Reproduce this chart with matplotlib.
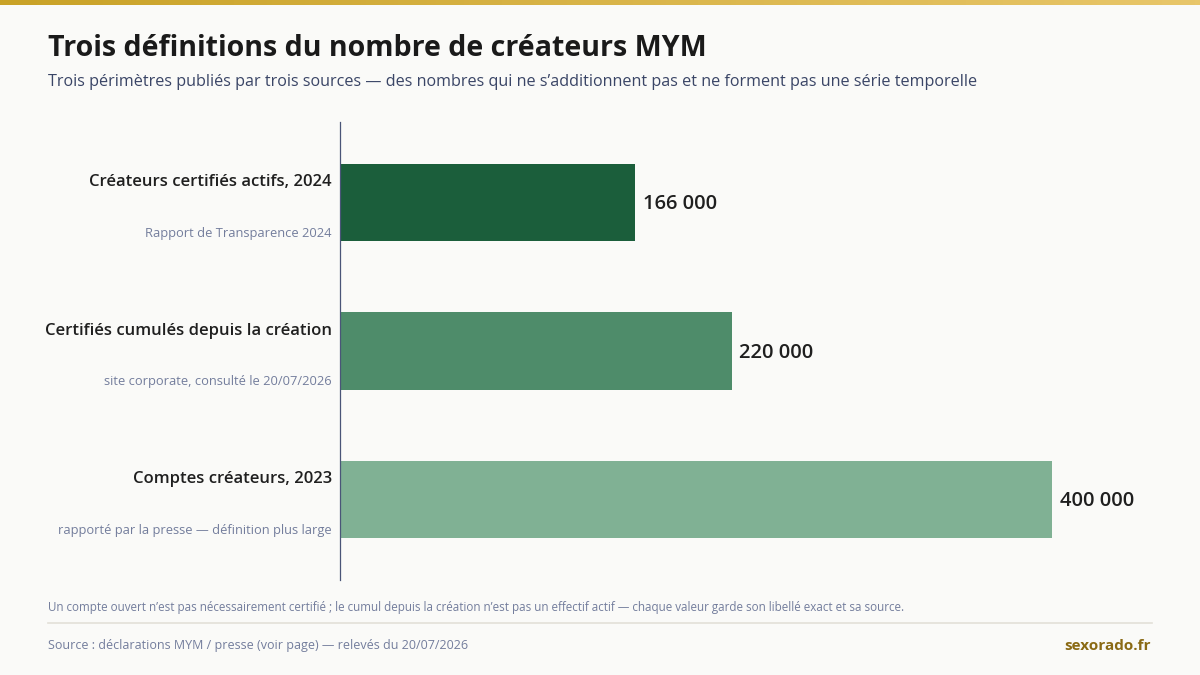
import matplotlib
matplotlib.use("Agg")
import matplotlib.pyplot as plt
import matplotlib.transforms as mtransforms
from matplotlib.colors import LinearSegmentedColormap
import numpy as np

categories = ["Créateurs certifiés actifs, 2024",
              "Certifiés cumulés depuis la création",
              "Comptes créateurs, 2023"]
sources = ["Rapport de Transparence 2024",
           "site corporate, consulté le 20/07/2026",
           "rapporté par la presse — définition plus large"]
values = [166000, 220000, 400000]
value_labels = ["166 000", "220 000", "400 000"]
colors = ["#1b5e3b", "#4e8c6a", "#80b194"]

title = "Trois définitions du nombre de créateurs MYM"
subtitle = ("Trois périmètres publiés par trois sources — des nombres qui ne s’additionnent pas "
            "et ne forment pas une série temporelle")
note = ("Un compte ouvert n’est pas nécessairement certifié ; le cumul depuis la création n’est pas "
        "un effectif actif — chaque valeur garde son libellé exact et sa source.")
source_txt = "Source : déclarations MYM / presse (voir page) — relevés du 20/07/2026"
brand = "sexorado.fr"

BG = "#fafaf8"
W, H = 1200, 675
fig = plt.figure(figsize=(12, 6.75), dpi=100, facecolor=BG)

# top gradient band
gax = fig.add_axes([0, 1 - 5 / H, 1, 5 / H])
grad = np.linspace(0, 1, 256).reshape(1, -1)
cmap = LinearSegmentedColormap.from_list("g", ["#c9a227", "#e8c66a"])
gax.imshow(grad, aspect="auto", cmap=cmap, extent=[0, 1, 0, 1])
gax.axis("off")

# main axes
left, right, top, bottom = 340, 1150, 122, 580
ax = fig.add_axes([left / W, 1 - bottom / H, (right - left) / W, (bottom - top) / H])
ax.set_facecolor(BG)
px_per_unit = 712 / 400000
ax.set_xlim(0, (right - left) / px_per_unit)
ax.set_ylim(2.542, -0.542)

y = np.arange(len(values))
ax.barh(y, values, height=0.52, color=colors, zorder=2)

for s in ["top", "right", "bottom"]:
    ax.spines[s].set_visible(False)
ax.spines["left"].set_color("#4a5578")
ax.spines["left"].set_linewidth(0.9)
ax.set_xticks([])
ax.set_yticks([])

trans = mtransforms.blended_transform_factory(ax.transAxes, ax.transData)
for i, (c, s, v, vl) in enumerate(zip(categories, sources, values, value_labels)):
    ax.text(-0.0099, i - 0.138, c, transform=trans, ha="right", va="center",
            fontsize=12, fontweight="semibold", color="#1f1f1f", family="Open Sans")
    ax.text(-0.0099, i + 0.206, s, transform=trans, ha="right", va="center",
            fontsize=9.25, color="#737d9c", family="Open Sans")
    ax.annotate(vl, xy=(v, i), xytext=(5.5, -1.2), textcoords="offset points",
                ha="left", va="center", fontsize=14.5, fontweight="semibold",
                color="#1f1f1f", family="Open Sans")

fig.text(48 / W, 1 - 48 / H, title, ha="left", va="center", fontsize=20.6,
         fontweight="bold", color="#1a1a1a", family="Open Sans")
fig.text(48 / W, 1 - 82 / H, subtitle, ha="left", va="center", fontsize=11.6,
         color="#3a4566", family="Open Sans")
fig.text(48 / W, 1 - 607 / H, note, ha="left", va="center", fontsize=8.35,
         color="#737d9c", family="Open Sans")
fig.add_artist(plt.Line2D([48 / W, 1152 / W], [1 - 623 / H, 1 - 623 / H],
                          color="#e3e0d8", linewidth=1.2, transform=fig.transFigure))
fig.text(48 / W, 1 - 646 / H, source_txt, ha="left", va="center", fontsize=9,
         color="#737d9c", family="Open Sans")
fig.text(1151 / W, 1 - 646 / H, brand, ha="right", va="center", fontsize=11,
         fontweight="bold", color="#8a6a14", family="Open Sans")

fig.savefig("out.png", dpi=100, facecolor=BG)
